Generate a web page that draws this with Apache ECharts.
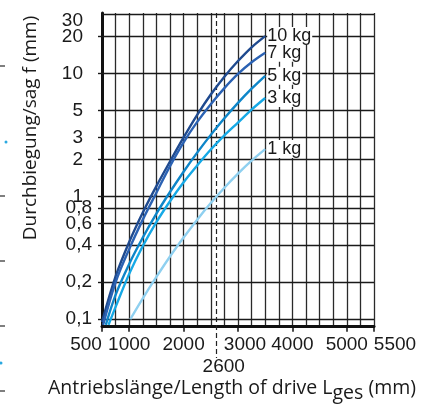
<!DOCTYPE html>
<html>
<head>
<meta charset="utf-8">
<script src="https://cdn.jsdelivr.net/npm/echarts@6/dist/echarts.min.js"></script>
<style>
html,body{margin:0;padding:0;background:#fff;}
#chart{width:435px;height:405px;}
</style>
</head>
<body>
<div id="chart"></div>
<script>
// ---- data ----
const seriesNames = ['10 kg', '7 kg', '5 kg', '3 kg', '1 kg'];
const len10 = [500, 750, 1000, 1250, 1500, 1750, 2000, 2250, 2500, 2750, 3000, 3250, 3500];
const sag10 = [0.095, 0.223, 0.425, 0.738, 1.21, 1.92, 3.01, 4.6, 6.73, 9.4, 12.6, 16.3, 20.1];
const len7  = [520, 750, 1000, 1250, 1500, 1750, 2000, 2250, 2500, 2750, 3000, 3250, 3500];
const sag7  = [0.09, 0.2, 0.372, 0.646, 1.07, 1.76, 2.75, 4.03, 5.62, 7.59, 9.89, 12.3, 14.7];
const len5  = [570, 750, 1000, 1250, 1500, 1750, 2000, 2250, 2500, 2750, 3000, 3250, 3500];
const sag5  = [0.09, 0.158, 0.282, 0.462, 0.724, 1.084, 1.585, 2.265, 3.16, 4.31, 5.75, 7.5, 9.55];
const len3  = [620, 750, 1000, 1250, 1500, 1750, 2000, 2250, 2500, 2750, 3000, 3250, 3500];
const sag3  = [0.09, 0.126, 0.234, 0.394, 0.617, 0.912, 1.30, 1.78, 2.40, 3.13, 3.98, 5.07, 6.3];
const len1  = [1020, 1250, 1500, 1750, 2000, 2250, 2500, 2750, 3000, 3250, 3500];
const sag1  = [0.1, 0.148, 0.221, 0.324, 0.462, 0.646, 0.881, 1.175, 1.53, 1.95, 2.42];

const xTickLabels = [500, 1000, 2000, 3000, 4000, 5000, 5500];
const yTickLabels = [0.1, 0.2, 0.4, 0.6, 0.8, 1, 2, 3, 5, 10, 20];
const yTopLabel = 30;
const markLength = [2600];
const xMin = 500, xMax = 5500, xStep = 250;
const yMin = 0.087, yMax = 31;

const colors = ['#1f4a8f', '#2b62b3', '#0e86c9', '#16a9e6', '#8fd0f0'];
const lens = [len10, len7, len5, len3, len1];
const sags = [sag10, sag7, sag5, sag3, sag1];

const FONT = '"Liberation Sans", Arial, sans-serif';
const TITLE_FONT = '"Open Sans", "Noto Sans", sans-serif';

const chart = echarts.init(document.getElementById('chart'), null, {renderer: 'canvas'});

const series = seriesNames.map((name, i) => ({
  name: name,
  type: 'line',
  xAxisIndex: 0,
  yAxisIndex: 0,
  data: lens[i].map((l, k) => [l, sags[i][k]]),
  showSymbol: false,
  smooth: 0.35,
  z: 5,
  lineStyle: {color: colors[i], width: 2.4},
  itemStyle: {color: colors[i]},
  endLabel: {
    show: true,
    formatter: name,
    distance: 2,
    color: '#1a1a1a',
    fontFamily: FONT,
    fontSize: 18,
    backgroundColor: '#fff',
    padding: [0, 1, 0, 0]
  }
}));

// top grid line (30) with its label
series[0].markLine = {
  silent: true,
  symbol: 'none',
  z: 1,
  data: [{yAxis: yTopLabel}],
  lineStyle: {color: '#1a1a1a', width: 1.4, type: 'solid'},
  label: {show: true, position: 'start', formatter: String(yTopLabel), distance: 19,
    offset: [0, 6],
    color: '#1a1a1a', fontFamily: FONT, fontSize: 19}
};

const xLabelShift = {500: 'l', 3000: 'r', 5500: 'rr'};

const option = {
  animation: false,
  backgroundColor: '#fff',
  grid: {left: 102, right: 61, top: 12.95, bottom: 78.3, containLabel: false},
  xAxis: [
    {
      type: 'value', position: 'bottom', min: xMin, max: xMax, interval: xStep,
      axisLine: {show: true, onZero: false, lineStyle: {color: '#111', width: 3}},
      axisTick: {show: false},
      splitLine: {show: true, lineStyle: {color: '#2a2a2a', width: 1.3}},
      axisLabel: {
        customValues: xTickLabels, margin: 9, color: '#1a1a1a', fontFamily: FONT, fontSize: 19,
        formatter: v => {
          const s = xLabelShift[v];
          return s ? '{' + s + '|' + v + '}' : String(v);
        },
        rich: {
          l: {padding: [0, 32, 0, 0], fontFamily: FONT, fontSize: 19, color: '#1a1a1a'},
          r: {padding: [0, 0, 0, 14], fontFamily: FONT, fontSize: 19, color: '#1a1a1a'},
          rr: {padding: [0, 0, 0, 42], fontFamily: FONT, fontSize: 19, color: '#1a1a1a'}
        }
      }
    },
    {
      type: 'value', position: 'top', min: xMin, max: xMax,
      axisLine: {show: false},
      axisLabel: {show: false},
      splitLine: {show: false},
      axisTick: {show: true, customValues: markLength, inside: true, length: 345,
        lineStyle: {color: '#222', width: 1.2, type: [5, 3]}}
    },
    {
      type: 'value', position: 'bottom', min: xMin, max: xMax,
      axisLine: {show: false},
      axisTick: {show: true, customValues: xTickLabels, length: 5, lineStyle: {color: '#111', width: 1.5}},
      splitLine: {show: false},
      axisLabel: {customValues: markLength, margin: 31, color: '#1a1a1a', fontFamily: FONT, fontSize: 19,
        formatter: v => '{r|' + v + '}',
        rich: {r: {padding: [0, 0, 0, 15], fontFamily: FONT, fontSize: 19, color: '#1a1a1a'}}
      }
    }
  ],
  yAxis: [
    {
      type: 'log', logBase: 10, min: yMin, max: yMax,
      axisLine: {show: true, onZero: false, lineStyle: {color: '#111', width: 3}},
      splitLine: {show: false},
      axisTick: {show: true, customValues: yTickLabels, inside: true, length: 272,
        lineStyle: {color: '#1a1a1a', width: 1.4}},
      axisLabel: {
        customValues: yTickLabels, margin: 10, color: '#1a1a1a', fontFamily: FONT, fontSize: 19,
        formatter: v => {
          const n = v >= 1 ? Math.round(v) : v;
          const s = String(n).replace('.', ',');
          return n >= 1 ? '{i|' + s + '}' : s;
        },
        rich: {
          i: {padding: [0, 9, 0, 0], fontFamily: FONT, fontSize: 19, color: '#1a1a1a'}
        }
      }
    },
    {
      type: 'log', logBase: 10, min: yMin, max: yMax, position: 'left',
      axisLine: {show: false},
      splitLine: {show: false},
      axisLabel: {show: false},
      axisTick: {show: true, customValues: yTickLabels, length: 4,
        lineStyle: {color: '#1a1a1a', width: 1.4}}
    }
  ],
  graphic: [
    {type: 'text', x: 31, y: 128, rotation: Math.PI / 2, z: 10,
      style: {text: 'Durchbiegung/sag f (mm)', font: '19px ' + TITLE_FONT, fill: '#1a1a1a',
        align: 'center', verticalAlign: 'middle'}},
    {type: 'text', x: 232, y: 390, z: 10,
      style: {
        text: '{a|Antriebslänge/Length of drive L}{s|ges}{a| (mm)}',
        align: 'center', verticalAlign: 'middle', fill: '#1a1a1a',
        rich: {
          a: {font: '19.5px ' + TITLE_FONT, fill: '#1a1a1a', verticalAlign: 'top', lineHeight: 24},
          s: {font: '19.5px ' + TITLE_FONT, fill: '#1a1a1a', verticalAlign: 'top', lineHeight: 24, padding: [5, 0, 0, 0]}
        }
      }},
    {type: 'line', shape: {x1: 0, y1: 66, x2: 5, y2: 66}, style: {stroke: '#555', lineWidth: 1.5}},
    {type: 'line', shape: {x1: 0, y1: 196, x2: 5, y2: 196}, style: {stroke: '#555', lineWidth: 1.5}},
    {type: 'line', shape: {x1: 0, y1: 261, x2: 5, y2: 261}, style: {stroke: '#555', lineWidth: 1.5}},
    {type: 'line', shape: {x1: 0, y1: 326, x2: 5, y2: 326}, style: {stroke: '#555', lineWidth: 1.5}},
    {type: 'line', shape: {x1: 0, y1: 391, x2: 5, y2: 391}, style: {stroke: '#555', lineWidth: 1.5}},
    {type: 'circle', shape: {cx: 6, cy: 142, r: 1.5}, style: {fill: '#2aa8e0'}},
    {type: 'circle', shape: {cx: 1, cy: 363, r: 1.5}, style: {fill: '#2aa8e0'}}
  ],
  series: series
};

chart.setOption(option);
</script>
</body>
</html>
